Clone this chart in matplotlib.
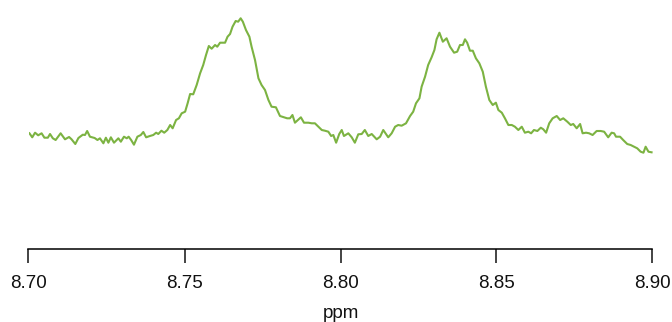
import matplotlib
matplotlib.use("Agg")
import matplotlib.pyplot as plt
from matplotlib.ticker import FixedLocator, FormatStrFormatter

ppm = [8.7003, 8.7012, 8.7021, 8.7031, 8.7042, 8.7051, 8.7062, 8.7069, 8.7078, 8.7087,
       8.7103, 8.7117, 8.7130, 8.7138, 8.7150, 8.7160, 8.7174, 8.7181, 8.7188, 8.7197,
       8.7212, 8.7221, 8.7229, 8.7240, 8.7248, 8.7256, 8.7264, 8.7274, 8.7288, 8.7296,
       8.7306, 8.7315, 8.7321, 8.7329, 8.7338, 8.7349, 8.7360, 8.7368, 8.7377, 8.7389,
       8.7400, 8.7409, 8.7416, 8.7426, 8.7435, 8.7445, 8.7454, 8.7462, 8.7473, 8.7482,
       8.7491, 8.7502, 8.7510, 8.7518, 8.7528, 8.7539, 8.7550, 8.7560, 8.7569, 8.7578,
       8.7587, 8.7598, 8.7605, 8.7614, 8.7630, 8.7638, 8.7646, 8.7654, 8.7664, 8.7672,
       8.7680, 8.7687, 8.7697, 8.7708, 8.7715, 8.7726, 8.7737, 8.7747, 8.7758, 8.7769,
       8.7779, 8.7793, 8.7806, 8.7819, 8.7829, 8.7838, 8.7846, 8.7854, 8.7873, 8.7883,
       8.7897, 8.7908, 8.7918, 8.7929, 8.7940, 8.7950, 8.7961, 8.7970, 8.7977, 8.7986,
       8.7996, 8.8004, 8.8011, 8.8025, 8.8036, 8.8046, 8.8057, 8.8068, 8.8078, 8.8089,
       8.8100, 8.8116, 8.8127, 8.8137, 8.8153, 8.8164, 8.8175, 8.8185, 8.8196, 8.8210,
       8.8223, 8.8233, 8.8242, 8.8253, 8.8260, 8.8271, 8.8281, 8.8292, 8.8301, 8.8308,
       8.8317, 8.8328, 8.8340, 8.8351, 8.8364, 8.8374, 8.8383, 8.8392, 8.8399, 8.8406,
       8.8415, 8.8424, 8.8434, 8.8445, 8.8456, 8.8466, 8.8477, 8.8488, 8.8498, 8.8506,
       8.8517, 8.8527, 8.8538, 8.8549, 8.8559, 8.8570, 8.8581, 8.8591, 8.8602, 8.8611,
       8.8620, 8.8631, 8.8642, 8.8650, 8.8659, 8.8669, 8.8680, 8.8693, 8.8704, 8.8714,
       8.8727, 8.8738, 8.8746, 8.8757, 8.8768, 8.8776, 8.8787, 8.8797, 8.8808, 8.8821,
       8.8834, 8.8845, 8.8858, 8.8869, 8.8877, 8.8883, 8.8896, 8.8906, 8.8919, 8.8930,
       8.8941, 8.8951, 8.8962, 8.8971, 8.8978, 8.8987, 8.8997]

intensity = [115.7, 111.7, 116.3, 113.7, 115.7, 111.3, 111.3, 115.0, 110.7, 109.0,
             115.7, 109.7, 112.0, 109.7, 105.0, 111.0, 114.3, 114.0, 118.0, 112.3,
             111.0, 109.0, 110.7, 105.7, 111.3, 106.3, 111.7, 106.3, 110.7, 107.3,
             112.3, 110.7, 112.3, 109.0, 104.3, 112.3, 114.0, 117.0, 111.7, 113.0,
             114.0, 116.3, 115.0, 118.3, 116.3, 119.0, 124.0, 120.7, 129.0, 130.7,
             135.7, 137.3, 145.7, 155.0, 154.7, 164.0, 175.7, 184.0, 194.0, 203.0,
             200.3, 204.0, 202.3, 206.3, 206.3, 212.3, 215.0, 222.3, 228.0, 227.3,
             230.7, 227.3, 219.0, 212.3, 202.3, 189.0, 170.7, 164.0, 159.0, 149.0,
             142.3, 141.7, 133.0, 131.7, 130.7, 130.7, 134.0, 126.3, 131.7, 126.3,
             126.3, 125.7, 125.7, 122.3, 119.0, 118.3, 117.3, 113.0, 114.0, 106.3,
             115.0, 119.0, 113.0, 115.7, 111.7, 106.3, 114.7, 115.0, 119.0, 113.0,
             115.0, 109.7, 112.3, 119.0, 111.7, 115.7, 122.3, 124.0, 123.3, 125.7,
             133.0, 137.3, 145.7, 150.7, 162.3, 172.3, 184.0, 191.7, 199.0, 209.7,
             216.3, 207.3, 210.7, 202.3, 196.3, 197.3, 204.0, 204.0, 209.7, 206.3,
             198.3, 198.3, 190.7, 185.7, 177.3, 162.3, 149.0, 144.0, 146.3, 139.0,
             136.3, 130.7, 124.0, 124.0, 122.3, 119.0, 122.3, 116.3, 117.3, 115.7,
             119.0, 118.0, 121.3, 119.7, 116.3, 125.7, 130.7, 133.0, 129.0, 130.7,
             127.3, 124.0, 125.0, 120.7, 125.0, 115.7, 116.3, 115.7, 114.0, 118.0,
             118.0, 117.3, 111.7, 116.3, 115.7, 112.3, 112.3, 109.0, 105.0, 104.0,
             102.3, 100.7, 97.3, 96.3, 102.3, 97.3, 96.7]

x_ticks = [8.70, 8.75, 8.80, 8.85, 8.90]
x_label = "ppm"

plt.rcParams['font.family'] = ['Liberation Sans', 'DejaVu Sans']

W, H = 672, 322
fig = plt.figure(figsize=(W / 100, H / 100), dpi=100)
ax = fig.add_axes([28.5 / W, (H - 249) / H, 624 / W, 239 / H])

ax.plot(ppm, intensity, color='#7cb342', lw=1.5, solid_joinstyle='round')

ax.set_xlim(8.70, 8.90)
ax.set_ylim(0, 239)
for s in ['top', 'right', 'left']:
    ax.spines[s].set_visible(False)
ax.spines['bottom'].set_linewidth(1.1)
ax.spines['bottom'].set_capstyle('projecting')
ax.set_yticks([])
ax.xaxis.set_major_locator(FixedLocator(x_ticks))
ax.xaxis.set_major_formatter(FormatStrFormatter('%.2f'))
ax.tick_params(axis='x', length=10, width=1.1, pad=8.5, labelsize=13.5, colors='#111111')
ax.patch.set_visible(False)

fig.text((28.5 + 312) / W, (H - 317.5) / H, x_label, ha='center', va='baseline',
         fontsize=13.5, color='#111111')

fig.savefig('out.png', dpi=100)
